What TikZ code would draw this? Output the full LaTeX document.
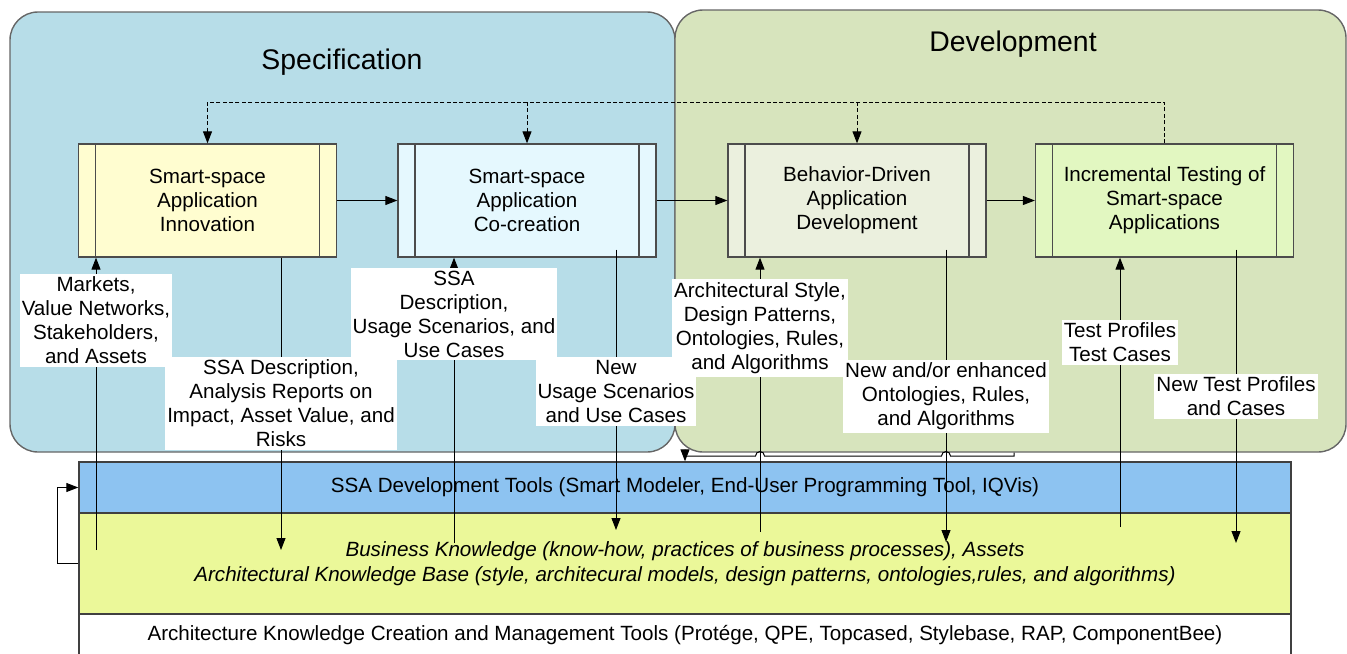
\documentclass[tikz,border=0pt]{standalone}
\usepackage{fontspec}
\setmainfont{Liberation Sans}
\usetikzlibrary{arrows.meta,calc}

\definecolor{specbg}{HTML}{B7DDE8}
\definecolor{devbg}{HTML}{D7E4BD}
\definecolor{innov}{HTML}{FFFDD0}
\definecolor{cocre}{HTML}{E5F8FE}
\definecolor{bdd}{HTML}{EBF0DE}
\definecolor{itest}{HTML}{E2F7C1}
\definecolor{tools}{HTML}{8DC3F1}
\definecolor{know}{HTML}{EBF899}

\begin{document}
\begin{tikzpicture}[x=0.5pt, y=-0.5pt, font=\fontsize{10.3pt}{12pt}\selectfont,
      >={Triangle[length=6pt,width=4.5pt]},
      arr/.style={->, line width=0.5pt},
      fb/.style={line width=0.5pt, dash pattern=on 2pt off 1.2pt},
      panel/.style={draw=black!60, line width=0.7pt, rounded corners=14pt},
      proc/.style={draw=black!70, line width=0.65pt, fill=#1, align=center,
        minimum width=129pt, minimum height=56.5pt,
        path picture={\draw[black!70, line width=0.65pt]
          ([xshift=8.5pt]path picture bounding box.north west) -- ([xshift=8.5pt]path picture bounding box.south west)
          ([xshift=-8.5pt]path picture bounding box.north east) -- ([xshift=-8.5pt]path picture bounding box.south east);}},
      layer/.style={draw=black!75, line width=0.7pt, fill=#1, align=center, minimum width=606pt},
      lbl/.style={fill=white, align=center, inner xsep=1pt, inner ysep=1.5pt}]
    \useasboundingbox (0,0) rectangle (1347,653);

    \node[panel, fill=specbg, minimum width=332.5pt, minimum height=220pt] (spec) at (342.5,232) {};
    \node[panel, fill=devbg, minimum width=335.5pt, minimum height=221pt] (dev) at (1010.5,231) {};
    \node[font=\fontsize{14.2pt}{17pt}\selectfont] (spect) at (342,62) {Specification};
    \node[font=\fontsize{14.2pt}{17pt}\selectfont] (devt) at (1013,44) {Development};

    \node[layer=tools, minimum height=25.5pt] (tl) at (685,487.5)
      {SSA Development Tools (Smart Modeler, End-User Programming Tool, IQVis)};
    \node[layer=know, minimum height=50.5pt, font=\fontsize{10.3pt}{12.5pt}\selectfont\itshape] (kb) at (685,563.5)
      {Business Knowledge (know-how, practices of business processes), Assets\\
       Architectural Knowledge Base (style, architecural models, design patterns, ontologies,rules, and algorithms)};
    \node[layer=white, minimum height=21pt] (mt) at (685,635)
      {Architecture Knowledge Creation and Management Tools (Protége, QPE, Topcased, Stylebase, RAP, ComponentBee)};

    \node[proc=innov] (b1) at (207.5,200.5) {Smart-space\\Application\\Innovation};
    \node[proc=cocre] (b2) at (527,200.5) {Smart-space\\Application\\Co-creation};
    \node[proc=bdd]   (b3) at (857,200.5) {Behavior-Driven\\Application\\Development};
    \node[proc=itest] (b4) at (1164.5,200.5) {Incremental Testing of\\Smart-space\\Applications};

    \draw[arr] (b1) -- (b2);
    \draw[arr] (b2) -- (b3);
    \draw[arr] (b3) -- (b4);

    \coordinate (top) at (207.5,102);
    \draw[fb] (b4.north) |- (top);
    \draw[fb,->] (top) -- (b1.north);
    \draw[fb,->] (top -| b2.north) -- (b2.north);
    \draw[fb,->] (top -| b3.north) -- (b3.north);

    \coordinate (k1) at (96,550);
    \coordinate (k2) at (281,550);
    \coordinate (k3) at (454,543);
    \coordinate (k4) at (616,530);
    \coordinate (k5) at (760,532);
    \coordinate (k6) at (946,542);
    \coordinate (k7) at (1120,527);
    \coordinate (k8) at (1236,543);
    \coordinate (hp) at (1014,456);

    \draw[arr] (dev.south -| hp) -- (hp) -- ($(hp -| k6)+(4.5,0)$)
      arc[start angle=0, end angle=-180, radius=4.5] -- ($(hp -| k5)+(4.5,0)$)
      arc[start angle=0, end angle=-180, radius=4.5] -- (tl.north |- hp) -- (tl.north);
    \draw[arr] (kb.west) -- ++(-21,0) |- (tl.west);

    \draw[arr] (k1) -- (k1 |- b1.south);
    \draw[arr] (b1.south -| k2) -- (k2);
    \draw[arr] (k3) -- (k3 |- b2.south);
    \draw[arr, shorten <=-4pt] (b2.south -| k4) -- (k4);
    \draw[arr] (k5) -- (k5 |- b3.south);
    \draw[arr, shorten <=-4pt] (b3.south -| k6) -- (k6);
    \draw[arr] (k7) -- (k7 |- b4.south);
    \draw[arr, shorten <=-4pt] (b4.south -| k8) -- (k8);

    \node[lbl] (l1) at (96,320.5) {Markets,\\Value Networks,\\Stakeholders,\\and Assets};
    \node[lbl] (l2) at (281,403.5) {SSA Description,\\Analysis Reports on\\Impact, Asset Value, and\\Risks};
    \node[lbl] (l3) at (454,314) {SSA\\Description,\\Usage Scenarios, and\\Use Cases};
    \node[lbl] (l4) at (616,391.5) {New\\Usage Scenarios\\and Use Cases};
    \node[lbl] (l5) at (760,328) {Architectural Style,\\Design Patterns,\\Ontologies, Rules,\\and Algorithms};
    \node[lbl] (l6) at (946,396.5) {New and/or enhanced\\Ontologies, Rules,\\and Algorithms};
    \node[lbl] (l7) at (1120,342.5) {Test Profiles\\Test Cases};
    \node[lbl] (l8) at (1236,396.5) {New Test Profiles\\and Cases};
  \end{tikzpicture}
\end{document}
